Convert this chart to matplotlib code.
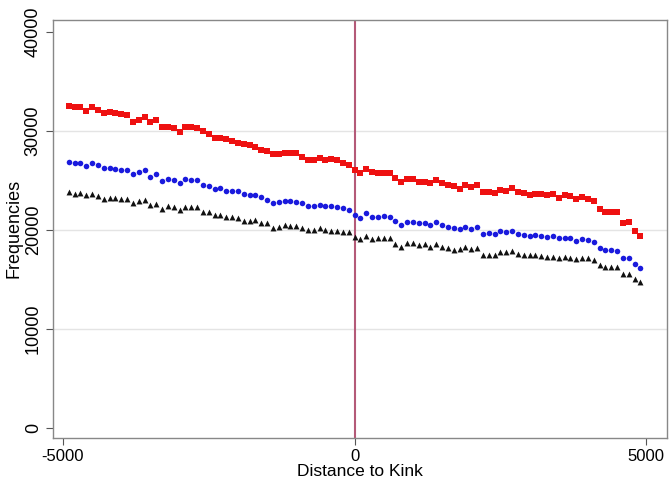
import matplotlib
matplotlib.use('Agg')
import matplotlib.pyplot as plt
import numpy as np

# distance to kink, bins of 100
dist = np.arange(-4900, 5000, 100)

red_freq = [32530, 32460, 32460, 32050, 32390, 32120, 31790, 31890, 31790, 31720,
            31620, 30940, 31110, 31450, 30940, 31110,
            30370, 30370, 30270, 29930, 30440, 30370, 30300, 29950, 29720, 29260,
            29260, 29140, 28970, 28810, 28640, 28620, 28410, 28080, 27980, 27650,
            27650, 27750, 27750, 27750, 27410, 27070, 27070, 27240, 27070, 27170,
            27070, 26800, 26570, 26060,
            25700, 26140, 25890, 25790, 25790, 25790, 25220, 24820, 25120, 25120,
            24880, 24880, 24780, 25050, 24780, 24550, 24440,
            24140, 24550, 24310, 24550, 23810, 23810, 23710, 24040, 23970, 24210,
            23810, 23710, 23540, 23640, 23640, 23540,
            23600, 23260, 23540, 23470, 23130, 23300, 23130, 22960, 22090, 21850,
            21790, 21790, 20740, 20840, 19900, 19390]

blue_freq = [26900, 26740, 26800, 26500, 26800, 26570, 26230, 26230, 26160, 26060,
             26060, 25630, 25890, 26060, 25380, 25630,
             24950, 25150, 25050, 24720, 25150, 25050, 25050, 24550, 24440, 24110,
             24210, 23940, 23940, 23940, 23610, 23540, 23540,
             23370, 23030, 22690, 22860, 22930, 22930, 22860, 22690, 22460, 22460,
             22530, 22460, 22460, 22360, 22190, 22020, 21520,
             21240, 21680, 21340, 21340, 21410, 21340, 20910, 20510, 20840, 20840,
             20670, 20670, 20510, 20840, 20510, 20270, 20170,
             20070, 20340, 20070, 20340, 19600, 19730, 19600, 19930, 19830, 19930,
             19600, 19490, 19390, 19490, 19390, 19260,
             19360, 19160, 19220, 19160, 18890, 19090, 18990, 18820, 18150, 17980,
             17980, 17880, 17140, 17200, 16530, 16130]

black_freq = [23810, 23610, 23710, 23540, 23640, 23430, 23130, 23260, 23200, 23100,
              23100, 22760, 22930, 23030, 22530, 22660,
              22120, 22420, 22360, 22020, 22360, 22360, 22360, 21790, 21790, 21520,
              21520, 21340, 21280, 21180, 20910, 20910, 21010,
              20670, 20670, 20170, 20340, 20510, 20440, 20440, 20230, 20000, 20000,
              20170, 20000, 19930, 19900, 19830, 19760, 19240,
              19060, 19390, 19060, 19220, 19220, 19220, 18590, 18320, 18660, 18660,
              18480, 18550, 18320, 18590, 18320, 18150, 17980,
              18050, 18250, 18050, 18150, 17470, 17470, 17470, 17810, 17810, 17880,
              17580, 17470, 17470, 17470, 17410, 17240,
              17300, 17140, 17240, 17140, 17040, 17140, 17140, 16970, 16460, 16290,
              16230, 16230, 15560, 15560, 15020, 14780]

xticks = [-5000, 0, 5000]
yticks = [0, 10000, 20000, 30000, 40000]

plt.rcParams['font.family'] = ['Liberation Sans', 'DejaVu Sans']

fig = plt.figure(figsize=(6.7, 4.84), dpi=100)
ax = fig.add_axes([0.079, 0.095, 0.917, 0.864])

for y in yticks[1:-1]:
     ax.axhline(y, color='#e4e4e4', lw=1.0, zorder=0)
ax.axvline(0, color='#b45a78', lw=1.5, zorder=1)

ax.scatter(dist, red_freq, marker='s', s=14, c='#ee1111', lw=0, zorder=3)
ax.scatter(dist, blue_freq, marker='o', s=16, c='#1a1add', lw=0, zorder=3)
ax.scatter(dist, black_freq, marker='^', s=18, c='#111111', lw=0, zorder=3)

ax.set_xlim(-5170, 5360)
ax.set_ylim(-1010, 41210)
ax.set_xticks(xticks)
ax.set_yticks(yticks)
ax.set_xticklabels([str(t) for t in xticks], fontsize=12)
ax.set_yticklabels([str(t) for t in yticks], fontsize=13, rotation=90, va='center')
ax.tick_params(direction='out', length=5, color='#555555', pad=3)
for s in ax.spines.values():
     s.set_color('#888888')
     s.set_linewidth(1.0)

ax.set_xlabel('Distance to Kink', fontsize=12.5, labelpad=0)
ax.set_ylabel('Frequencies', fontsize=13, labelpad=2)

fig.savefig('out.png', dpi=100)
